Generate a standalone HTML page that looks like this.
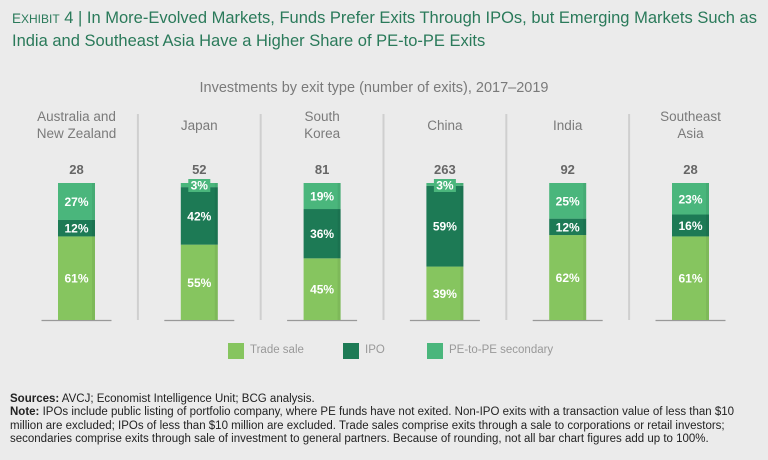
<!DOCTYPE html>
<html><head><meta charset="utf-8">
<style>
body{margin:0;width:768px;height:460px;background:#ebebeb;font-family:"Liberation Sans",sans-serif;overflow:hidden;position:relative}
.t{position:absolute;white-space:nowrap}
.lg{font-size:11.5px;color:#999;top:344px}
</style></head><body>
<div class="t" style="left:12px;top:7px;line-height:22px;color:#2a7a5a;font-family:'Liberation Sans Narrow','Liberation Sans',sans-serif;font-size:16.5px"><span style="font-size:13.5px">E</span><span style="font-size:12px">XHIBIT</span> 4 | In More-Evolved Markets, Funds Prefer Exits Through IPOs, but Emerging Markets Such as<br>India and Southeast Asia Have a Higher Share of PE-to-PE Exits</div>
<div class="t" style="left:0;width:748px;text-align:center;top:80px;font-size:14.5px;color:#7a7a7a">Investments by exit type (number of exits), 2017–2019</div>
<svg id="chart" width="768" height="340" style="position:absolute;left:0;top:0"></svg>
<div>
<div class="t" style="left:228px;top:343px;width:16px;height:16px;background:#86c55f"></div>
<div class="t lg" style="left:250px">Trade sale</div>
<div class="t" style="left:343px;top:343px;width:16px;height:16px;background:#1d7a55"></div>
<div class="t lg" style="left:365px">IPO</div>
<div class="t" style="left:427px;top:343px;width:16px;height:16px;background:#4ab67c"></div>
<div class="t lg" style="left:449px">PE-to-PE secondary</div>
</div>
<div class="t" style="left:10px;top:393px;font-size:11.5px;line-height:13.3px;color:#222;font-family:'Liberation Sans Narrow','Liberation Sans',sans-serif"><b>Sources:</b> AVCJ; Economist Intelligence Unit; BCG analysis.<br><b>Note:</b> IPOs include public listing of portfolio company, where PE funds have not exited. Non-IPO exits with a transaction value of less than $10<br>million are excluded; IPOs of less than $10 million are excluded. Trade sales comprise exits through a sale to corporations or retail investors;<br>secondaries comprise exits through sale of investment to general partners. Because of rounding, not all bar chart figures add up to 100%.</div>
<script>
const categories=[["Australia and","New Zealand"],["Japan"],["South","Korea"],["China"],["India"],["Southeast","Asia"]];
const totals=[28,52,81,263,92,28];
const tradeSale=[61,55,45,39,62,61];
const ipo=[12,42,36,59,12,16];
const peSecondary=[27,3,19,3,25,23];
const NS="http://www.w3.org/2000/svg";
const svg=document.getElementById('chart');
const x0=76.5,step=122.8,bw=37,yBase=320,yTop=183;
const xc=i=>x0+i*step;
const y=v=>yBase-(v/100)*(yBase-yTop);
function mk(tag,attrs,txt){const e=document.createElementNS(NS,tag);for(const k in attrs)e.setAttribute(k,attrs[k]);if(txt!==undefined)e.textContent=txt;svg.appendChild(e);return e;}
for(let i=1;i<categories.length;i++){
 const s=mk('rect',{x:(xc(i-1)+xc(i))/2-1,y:114,width:2,height:206,fill:'#cfcfcf'});
 
 
}
const series=[[tradeSale,'#86c55f','trade-sale'],[ipo,'#1d7a55','ipo'],[peSecondary,'#4ab67c','pe-secondary']];
categories.forEach((c,i)=>{
 const cx=xc(i);
 const bl=mk('line',{x1:cx-35,x2:cx+35,y1:yBase+0.5,y2:yBase+0.5,stroke:'#999','stroke-width':1.2});
 
 
 c.forEach((ln,j)=>{
  const t=mk('text',{x:cx,y:(c.length==1?130:121)+j*17,'text-anchor':'middle','font-size':13.5,fill:'#7a7a7a'},ln);
  
  
 });
 const tt=mk('text',{x:cx,y:174,'text-anchor':'middle','font-size':13,'font-weight':'bold',fill:'#666'},totals[i]);
 
 
 let acc=0;
 series.forEach(([arr,col,nm],k)=>{
  let v=arr[i];
  let top=Math.max(y(acc+v),yTop-1), bot=y(acc);
  if(k==2) top=yTop;
  const r=mk('rect',{x:cx-bw/2,y:top,width:bw,height:Math.max(bot-top,0),fill:col});
  
  
  const sh=mk('rect',{x:cx+bw/2-3,y:top,width:3,height:Math.max(bot-top,0),fill:'#000',opacity:0.06});
  
  
  let ly=(top+bot)/2+4.5;
  if(v<6){
   const b=mk('rect',{x:cx-11,y:yTop-4,width:22,height:13,fill:col});
   
   
   ly=yTop+6.5;
  }
  const lt=mk('text',{x:cx,y:ly,'text-anchor':'middle','font-size':12,'font-weight':'bold',fill:'#fff'},v+'%');
  
  
  acc+=v;
 });
});
</script>
</body></html>
